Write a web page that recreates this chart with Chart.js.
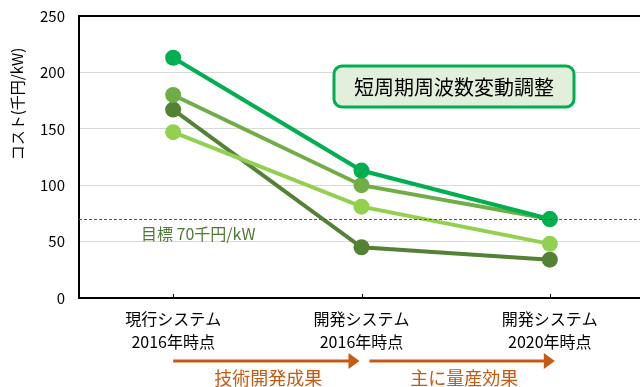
<!DOCTYPE html>
<html>
<head>
<meta charset="utf-8">
<script src="https://cdn.jsdelivr.net/npm/chart.js@4"></script>
<style>
  html, body { margin: 0; padding: 0; background: #fff; overflow: hidden; }
  #wrap { width: 640px; height: 387px; overflow: hidden; }
</style>
</head>
<body>
<div id="wrap"><canvas id="cost-chart" width="652" height="387"></canvas></div>
<script>
const categories = [
  ['現行システム', '2016年時点'],
  ['開発システム', '2016年時点'],
  ['開発システム', '2020年時点']
];
const seriesA = [213, 113, 70];
const seriesB = [147, 81, 48];
const seriesC = [180, 100, 70];
const seriesD = [167, 45, 34];
const target = 70;
const targetLabel = '目標 70千円/kW';
const yTicks = [0, 50, 100, 150, 200, 250];
const boxLabel = '短周期周波数変動調整';
const stepLabels = ['技術開発成果', '主に量産効果'];

const JP = '"Noto Sans CJK JP", "Noto Sans", sans-serif';

const line = (data, color) => ({
  data: data,
  borderColor: color,
  backgroundColor: color,
  borderWidth: 4,
  pointRadius: 8,
  pointHoverRadius: 8,
  pointBorderWidth: 0
});

// extra drawing: frame, target line, label box, arrows
const extras = {
  id: 'extras',
  afterDatasetsDraw(chart) {
    const { ctx, chartArea: a, scales: { y } } = chart;
    ctx.save();
    // target line (drawn over the markers)
    const ty = Math.round(y.getPixelForValue(target)) + 0.5;
    ctx.strokeStyle = '#40692b';
    ctx.lineWidth = 1;
    ctx.setLineDash([3, 2]);
    ctx.beginPath();
    ctx.moveTo(a.left, ty);
    ctx.lineTo(a.right, ty);
    ctx.stroke();
    ctx.setLineDash([]);
    ctx.fillStyle = '#4f7a33';
    ctx.font = '16px ' + JP;
    ctx.textAlign = 'left';
    ctx.textBaseline = 'middle';
    ctx.fillText(targetLabel, 141, ty + 14);
    ctx.restore();
  },
  afterDraw(chart) {
    const { ctx, chartArea: a, scales: { x } } = chart;
    ctx.save();
    // frame top + inside ticks
    ctx.strokeStyle = '#000';
    ctx.lineWidth = 2;
    ctx.beginPath();
    ctx.moveTo(a.left, a.top);
    ctx.lineTo(a.right, a.top);
    ctx.stroke();
    ctx.lineWidth = 1;
    categories.forEach((c, i) => {
      const px = Math.round(x.getPixelForValue(i)) + 0.5;
      ctx.beginPath();
      ctx.moveTo(px, a.bottom);
      ctx.lineTo(px, a.bottom - 4);
      ctx.stroke();
    });

    // y axis title
    ctx.save();
    ctx.translate(17, 104);
    ctx.rotate(-Math.PI / 2);
    ctx.fillStyle = '#000';
    ctx.font = '15px ' + JP;
    ctx.textAlign = 'center';
    ctx.textBaseline = 'middle';
    ctx.fillText('コスト(千円/kW)', 0, 0);
    ctx.restore();

    // label box
    const bx = 334, by = 66, bw = 240, bh = 41;
    ctx.beginPath();
    ctx.roundRect(bx, by, bw, bh, 8);
    ctx.fillStyle = '#e2efda';
    ctx.fill();
    ctx.strokeStyle = '#00b050';
    ctx.lineWidth = 3;
    ctx.stroke();
    ctx.fillStyle = '#000';
    ctx.font = '20px ' + JP;
    ctx.textAlign = 'center';
    ctx.textBaseline = 'middle';
    ctx.fillText(boxLabel, bx + bw / 2, by + bh / 2 + 1);

    // arrows between stages
    const ay = 361;
    ctx.strokeStyle = '#c55a11';
    ctx.fillStyle = '#c55a11';
    ctx.lineWidth = 3;
    for (let i = 0; i < 2; i++) {
      const x0 = x.getPixelForValue(i) + (i === 0 ? 0 : 8);
      const x1 = x.getPixelForValue(i + 1) + (i === 0 ? -2 : 5);
      ctx.beginPath();
      ctx.moveTo(x0, ay);
      ctx.lineTo(x1 - 10, ay);
      ctx.stroke();
      ctx.beginPath();
      ctx.moveTo(x1, ay);
      ctx.lineTo(x1 - 11, ay - 8);
      ctx.lineTo(x1 - 11, ay + 8);
      ctx.closePath();
      ctx.fill();
      ctx.font = '18px ' + JP;
      ctx.textAlign = 'center';
      ctx.textBaseline = 'middle';
      ctx.fillText(stepLabels[i], (x0 + x1) / 2 + 2, 378);
    }
    ctx.restore();
  }
};

new Chart(document.getElementById('cost-chart'), {
  type: 'line',
  data: {
    labels: categories,
    datasets: [
      line(seriesA, '#00b050'),
      line(seriesB, '#92d050'),
      line(seriesC, '#70ad47'),
      line(seriesD, '#548235')
    ]
  },
  options: {
    responsive: false,
    animation: false,
    layout: { padding: { top: 16, right: 0, left: 0, bottom: 0 } },
    plugins: { legend: { display: false }, tooltip: { enabled: false } },
    scales: {
      x: {
        offset: true,
        grid: { display: false },
        border: { color: '#000', width: 2 },
        ticks: { color: '#000', padding: 2, font: { family: JP, size: 16, lineHeight: 1.4 } },
        afterFit(s) { s.height = 89; s.paddingTop = 0; s.paddingBottom = 0; }
      },
      y: {
        min: 0,
        max: 250,
        afterBuildTicks(s) { s.ticks = yTicks.map(v => ({ value: v })); },
        grid: { color: '#d9d9d9', drawTicks: false },
        border: { color: '#000', width: 2 },
        ticks: { color: '#000', padding: 14, font: { family: JP, size: 15 } },
        afterFit(s) { s.width = 79; s.paddingTop = 0; s.paddingBottom = 0; }
      }
    }
  },
  plugins: [extras]
});
</script>
</body>
</html>
